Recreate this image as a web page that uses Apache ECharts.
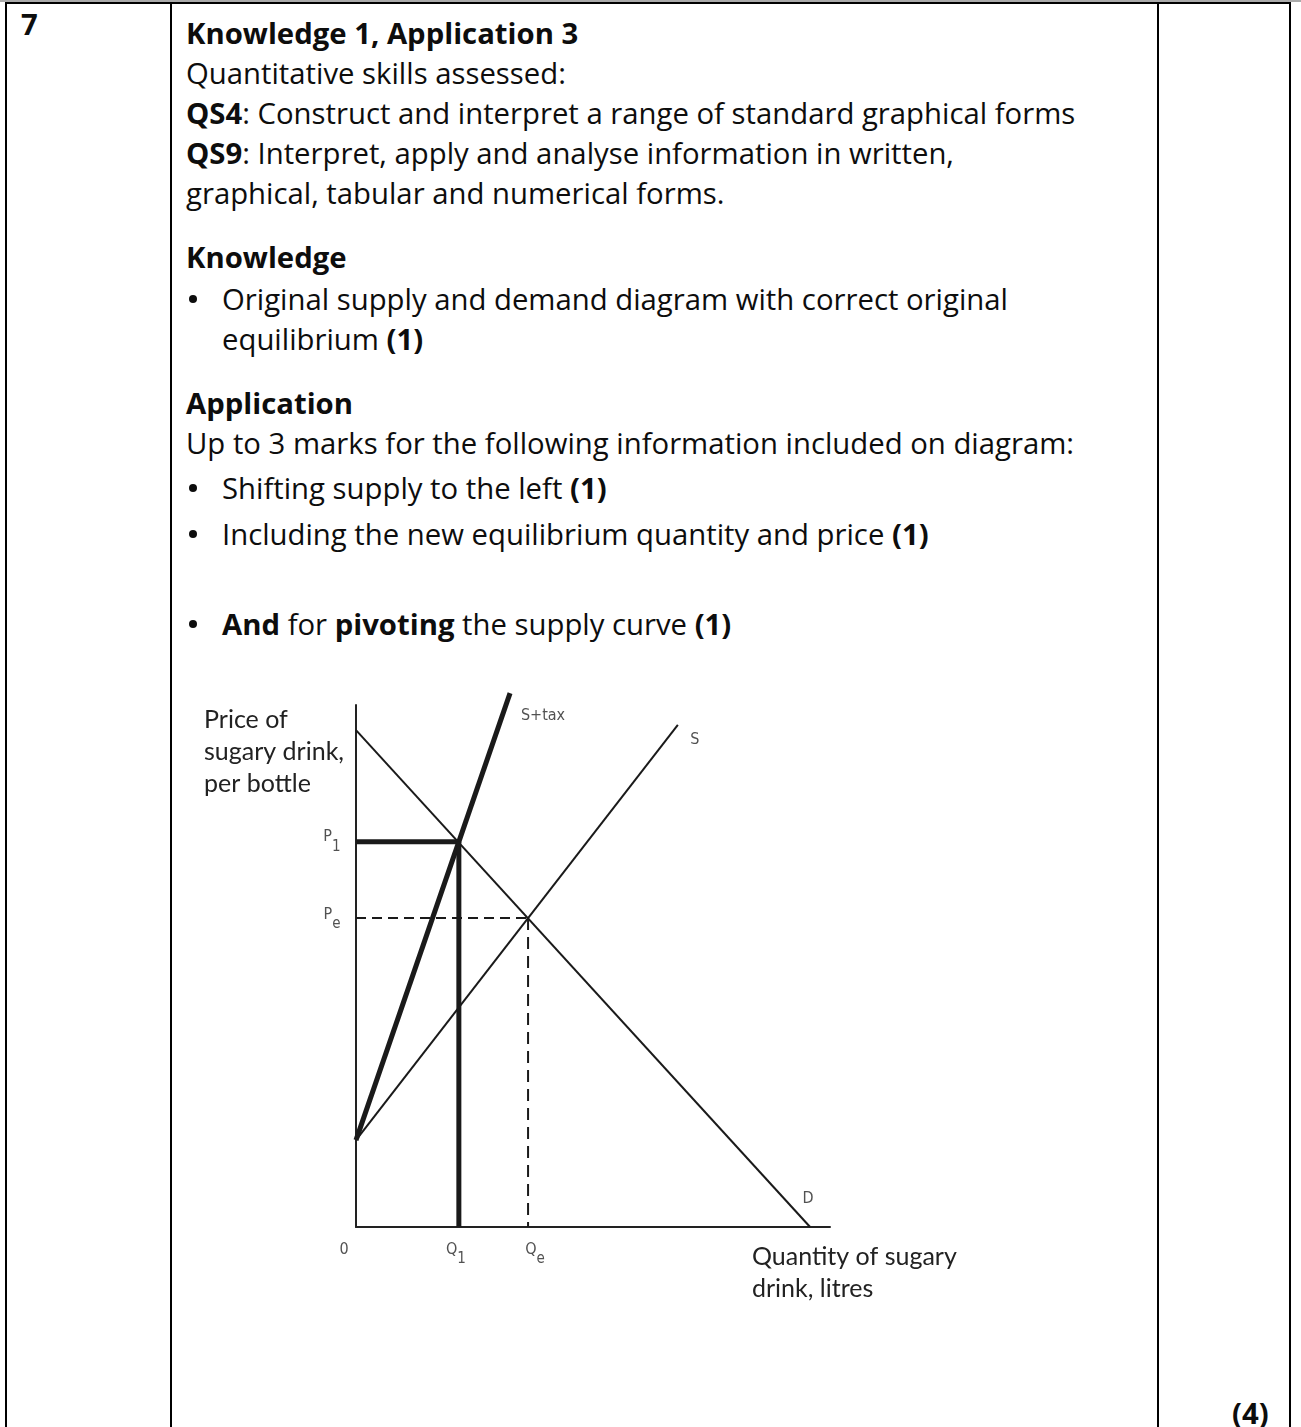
<!DOCTYPE html>
<html>
<head>
<meta charset="utf-8">
<script src="https://cdn.jsdelivr.net/npm/echarts@6/dist/echarts.min.js"></script>
<style>
  html, body { margin: 0; padding: 0; background: #fff; }
  body { width: 1301px; height: 1427px; position: relative; overflow: hidden;
         font-family: "Open Sans", "Noto Sans", sans-serif; color: #0d0d0d; }
  .rule { position: absolute; background: #000; }
  .ln { position: absolute; white-space: nowrap; font-size: 29.3px; line-height: 40px; }
  .b { font-weight: 700; }
  .dot { position: absolute; left: 189px; width: 8px; height: 8px; border-radius: 50%; background: #0d0d0d; }
  #chart { position: absolute; left: 180px; top: 670px; width: 800px; height: 660px; }
</style>
</head>
<body>
<!-- table frame -->
<div class="rule" style="left:0;top:0;width:1301px;height:2px;background:#aaa"></div>
<div class="rule" style="left:5px;top:2px;width:1286px;height:2px"></div>
<div class="rule" style="left:5px;top:2px;width:2px;height:1425px"></div>
<div class="rule" style="left:170px;top:2px;width:2px;height:1425px"></div>
<div class="rule" style="left:1157px;top:2px;width:2px;height:1425px"></div>
<div class="rule" style="left:1289px;top:2px;width:2px;height:1425px"></div>

<div class="ln b" style="left:21px;top:4px">7</div>

<div class="ln b" style="left:186px;top:13px">Knowledge 1, Application 3</div>
<div class="ln" style="left:186px;top:53px">Quantitative skills assessed:</div>
<div class="ln" style="left:186px;top:93px"><span class="b">QS4</span>: Construct and interpret a range of standard graphical forms</div>
<div class="ln" style="left:186px;top:133px"><span class="b">QS9</span>: Interpret, apply and analyse information in written,</div>
<div class="ln" style="left:186px;top:173px">graphical, tabular and numerical forms.</div>

<div class="ln b" style="left:186px;top:237px">Knowledge</div>
<div class="dot" style="top:295px"></div>
<div class="ln" style="left:222px;top:279px">Original supply and demand diagram with correct original</div>
<div class="ln" style="left:222px;top:319px">equilibrium <span class="b">(1)</span></div>

<div class="ln b" style="left:186px;top:383px">Application</div>
<div class="ln" style="left:186px;top:423px">Up to 3 marks for the following information included on diagram:</div>
<div class="dot" style="top:484px"></div>
<div class="ln" style="left:222px;top:468px">Shifting supply to the left <span class="b">(1)</span></div>
<div class="dot" style="top:530px"></div>
<div class="ln" style="left:222px;top:514px">Including the new equilibrium quantity and price <span class="b">(1)</span></div>
<div class="dot" style="top:620px"></div>
<div class="ln" style="left:222px;top:604px"><span class="b">And</span> for <span class="b">pivoting</span> the supply curve <span class="b">(1)</span></div>

<div class="ln b" style="left:1232px;top:1393px">(4)</div>

<div id="chart"></div>

<script>
// Quantity (x) and price (y) in diagram units
const axisMax = { quantity: 10, price: 11 };
const demand = [[0, 10.47], [9.58, 0]];
const supply = [[0, 1.83], [6.79, 10.58]];
const supplyTax = [[0, 1.83], [3.25, 11.25]];
const equilibrium = [3.63, 6.51];     // Qe, Pe
const taxEquilibrium = [2.17, 8.12];  // Q1, P1
const curveNames = ['D', 'S', 'S+tax'];
const priceTickNames = [['P', '1'], ['P', 'e']];
const quantityTickNames = [['0', ''], ['Q', '1'], ['Q', 'e']];
const axisTitles = ['Price of\nsugary drink,\nper bottle', 'Quantity of sugary\ndrink, litres'];

const [qe, pe] = equilibrium;
const [q1, p1] = taxEquilibrium;

const ink = '#1a1a1a';
const labelInk = '#262626';
const tickFont = '"Liberation Sans Narrow", "DejaVu Sans Condensed", "Liberation Sans", sans-serif';
const titleFont = 'Lato, "Open Sans", sans-serif';

function seg(data, width, type, extra) {
  return Object.assign({
    type: 'line', data: data, showSymbol: false, silent: true, animation: false,
    lineStyle: { color: ink, width: width, type: type || 'solid', cap: 'butt' },
    z: 3
  }, extra || {});
}

const subRich = {
  m: { fontFamily: tickFont, fontSize: 16, color: labelInk, padding: [0, 0, 9, 0], verticalAlign: 'bottom' },
  s: { fontFamily: tickFont, fontSize: 15, color: labelInk, verticalAlign: 'bottom' }
};
function subText(pair) {
  return pair[1] ? '{m|' + pair[0] + '}{s|' + pair[1] + '}' : '{m|' + pair[0] + '}';
}

// text annotations drawn at data points with label offsets
const tickPoints = [
  { value: [0, p1], text: subText(priceTickNames[0]), offset: [-24, 0] },
  { value: [0, pe], text: subText(priceTickNames[1]), offset: [-24, 1] },
  { value: [0, 0], text: subText(quantityTickNames[0]), offset: [-12, 27] },
  { value: [q1, 0], text: subText(quantityTickNames[1]), offset: [-3, 27] },
  { value: [qe, 0], text: subText(quantityTickNames[2]), offset: [7, 27] }
];
const curvePoints = [
  { value: demand[1], text: curveNames[0], offset: [-2, -28] },
  { value: supply[1], text: curveNames[1], offset: [17, 15] },
  { value: supplyTax[1], text: curveNames[2], offset: [33, 23] }
];

function labelSeries(points, rich, fontSize) {
  return {
    type: 'scatter', symbolSize: 0, silent: true, animation: false, z: 5, clip: false,
    data: points.map(p => ({
      value: p.value,
      label: {
        show: true, position: 'inside', offset: p.offset,
        formatter: p.text, rich: rich,
        fontFamily: tickFont, fontSize: fontSize, color: labelInk
      }
    }))
  };
}

const chart = echarts.init(document.getElementById('chart'), null, { renderer: 'canvas' });
chart.setOption({
  animation: false,
  grid: { left: 176, top: 35, width: 474, height: 522 },
  xAxis: {
    type: 'value', min: 0, max: axisMax.quantity,
    axisLine: { show: true, onZero: false, lineStyle: { color: '#222', width: 2 } },
    axisTick: { show: false }, axisLabel: { show: false }, splitLine: { show: false }
  },
  yAxis: {
    type: 'value', min: 0, max: axisMax.price,
    axisLine: { show: true, onZero: false, lineStyle: { color: '#222', width: 2 } },
    axisTick: { show: false }, axisLabel: { show: false }, splitLine: { show: false }
  },
  graphic: [
    { type: 'text', left: 24, top: 34, silent: true,
      style: { text: axisTitles[0], font: '25px ' + titleFont, lineHeight: 32, fill: '#222' } },
    { type: 'text', left: 572, top: 571, silent: true,
      style: { text: axisTitles[1], font: '25px ' + titleFont, lineHeight: 32, fill: '#222' } }
  ],
  series: [
    seg(demand, 2),
    seg(supply, 2),
    seg(supplyTax, 5, 'solid', { clip: false, z: 4 }),
    seg([[0, pe], [qe, pe]], 2, [10, 6]),
    seg([[qe, pe], [qe, 0]], 2, [12, 7]),
    seg([[0, p1], [q1, p1]], 5, 'solid', { z: 4 }),
    seg([[q1, p1], [q1, 0]], 5, 'solid', { z: 4 }),
    labelSeries(tickPoints, subRich, 16),
    labelSeries(curvePoints, {}, 16)
  ]
});
</script>
</body>
</html>
